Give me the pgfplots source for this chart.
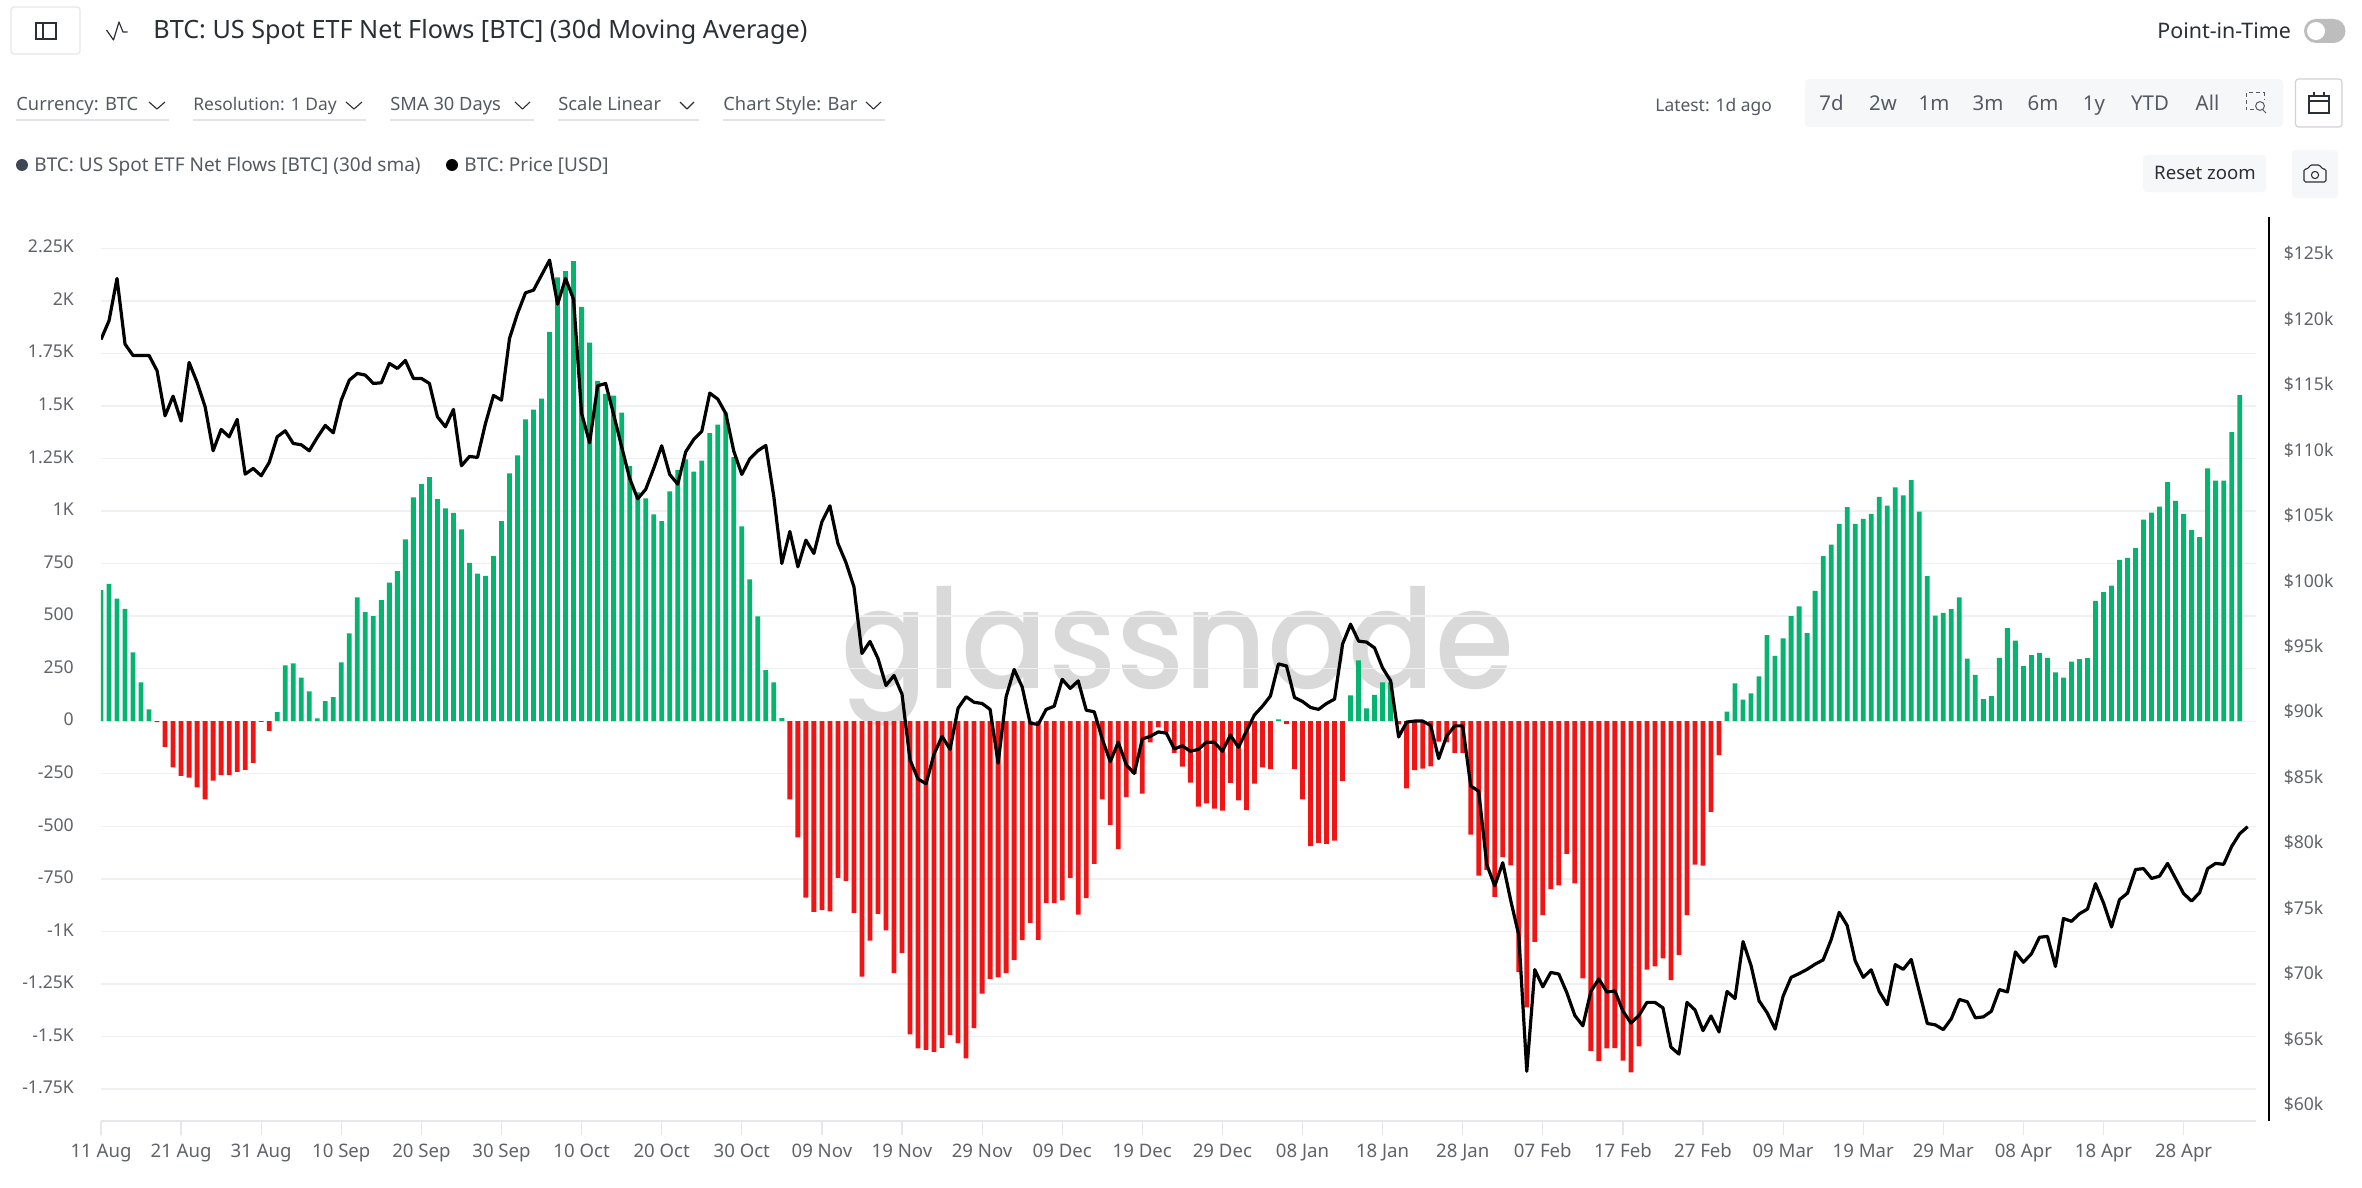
\documentclass[border=0pt]{standalone}
\usepackage{pgfplots}
\pgfplotsset{compat=1.18}
\usepackage{fontspec}
\setmainfont{Noto Sans}
\newfontfamily\wmfont{Poppins}[UprightFont=* Medium]
\definecolor{barg}{HTML}{05B56F}
\definecolor{barr}{HTML}{F01414}
\definecolor{gridc}{HTML}{EFF0F3}
\definecolor{axisc}{HTML}{E6E7EB}
\definecolor{tickt}{HTML}{606368}
\definecolor{uit}{HTML}{2B2F36}
\definecolor{uig}{HTML}{555A62}
\definecolor{panel}{HTML}{F6F7F9}
\definecolor{underl}{HTML}{E3E4E7}
\definecolor{wm}{HTML}{D9D9D9}
\definecolor{dotc}{HTML}{3F4655}
\definecolor{togg}{HTML}{BDBDBD}
\begin{document}
\begin{tikzpicture}
\path[use as bounding box,fill=white] (0,0) rectangle (1181pt,-594pt);
% ---- interface (x,y in reference pixels, y downwards)
\begin{scope}[x=0.5pt,y=-0.5pt]
\newcommand{\chev}[2]{\draw[uit,line width=0.55pt,line join=round] (#1,102) -- ({(#1+#2)/2},109) -- (#2,102);}
\newcommand{\ul}[2]{\draw[underl,line width=0.6pt] (#1,120) -- (#2,120);}
\draw[draw=axisc,line width=0.6pt,rounded corners=1.5pt] (11,7) rectangle (80,54);
\draw[uit,line width=0.6pt] (36,23) rectangle (56,39) (43,23) -- (43,39);
\draw[uit,line width=0.6pt,line join=round] (106.5,30) -- (113.5,40) -- (119,22) -- (123,32) -- (127.5,32);
\node[anchor=base west,inner sep=0,text=uit,font=\fontsize{12.6pt}{14pt}\selectfont] at (153,39) {BTC: US Spot ETF Net Flows [BTC] (30d Moving Average)};
\begin{scope}[every node/.style={anchor=base west,inner sep=0,text=uig,font=\fontsize{9.15pt}{11pt}\selectfont}]
\node at (16,111) {Currency: BTC}; \chev{149}{165} \ul{16}{169}
\node[font=\fontsize{8.7pt}{11pt}\selectfont] at (193,111) {Resolution: 1 Day}; \chev{346}{362} \ul{193}{366}
\node at (390,111) {SMA 30 Days}; \chev{515}{530} \ul{390}{534}
\node at (558,111) {Scale Linear}; \chev{680}{694} \ul{558}{699}
\node at (723,111) {Chart Style: Bar}; \chev{866}{881} \ul{723}{885}
\node[font=\fontsize{9.5pt}{11pt}\selectfont] at (34,171) {BTC: US Spot ETF Net Flows [BTC] (30d sma)};
\node[font=\fontsize{9.5pt}{11pt}\selectfont] at (464,171) {BTC: Price [USD]};
\node[font=\fontsize{8.7pt}{10pt}\selectfont] at (1655,112) {Latest: 1d ago};
\node[text=uit,font=\fontsize{10.7pt}{12pt}\selectfont] at (2157,39) {Point-in-Time};
\end{scope}
\fill[dotc] (22,165) circle (3pt);
\fill[black] (452,165) circle (3pt);
\fill[togg,rounded corners=6pt] (2304,19) rectangle (2345.5,43);
\fill[white] (2316,31) circle (4.5pt);
\fill[panel,rounded corners=2pt] (1805,79) rectangle (2283,127);
\begin{scope}[every node/.style={anchor=base,inner sep=0,text=uig,font=\fontsize{10.2pt}{12pt}\selectfont}]
\node at (1831.5,111) {7d}; \node at (1883,111) {2w}; \node at (1934,111) {1m};
\node at (1988,111) {3m}; \node at (2043,111) {6m}; \node at (2094,111) {1y};
\node at (2150,111) {YTD}; \node at (2207.5,111) {All};
\end{scope}
\draw[uig,line width=0.5pt,dash pattern=on 2pt off 1.5pt] (2246,93) rectangle (2264,110);
\fill[panel] (2255,100) rectangle (2268,114);
\draw[uig,line width=0.5pt] (2260,106) circle (2.2pt) (2263,110) -- (2266,113);
\draw[draw=axisc!80!gray,fill=white,line width=0.6pt,rounded corners=1.5pt] (2295.5,79) rectangle (2342,127);
\draw[uit,line width=0.6pt] (2309,96) rectangle (2329,113) (2309,101) -- (2329,101) (2314,92) -- (2314,97) (2324,92) -- (2324,97);
\fill[panel,rounded corners=2pt] (2143,155) rectangle (2266,192);
\node[inner sep=0,text=uit,font=\fontsize{9.3pt}{11pt}\selectfont] at (2205,173) {Reset zoom};
\fill[panel,rounded corners=2pt] (2292,150) rectangle (2338,198);
\draw[uit,line width=0.55pt,rounded corners=0.8pt] (2304,169) -- (2308,169) -- (2310,165) -- (2320,165) -- (2322,169) -- (2326,169) -- (2326,182) -- (2304,182) -- cycle;
\draw[uit,line width=0.55pt] (2315,175) circle (1.8pt);
% watermark
\node[anchor=base west,inner sep=0,text=wm,font=\wmfont\fontsize{69pt}{70pt}\selectfont] at (841,688) {\scalebox{0.925}[1]{glassnode}};
\end{scope}
% ---- flows
\begin{axis}[
  at={(50.5pt,-560.5pt)},anchor=south west,scale only axis,
  width=1077.5pt,height=452pt,
  xmin=0,xmax=269.04,ymin=-1902,ymax=2399,
  axis x line*=bottom,axis y line*=left,
  x axis line style={draw=axisc,line width=0.8pt,-},
  y axis line style={draw=none,-},
  scaled y ticks=false,
  xtick={0,10,...,260},
  xticklabels={11 Aug,21 Aug,31 Aug,10 Sep,20 Sep,30 Sep,10 Oct,20 Oct,30 Oct,09 Nov,19 Nov,29 Nov,09 Dec,19 Dec,29 Dec,08 Jan,18 Jan,28 Jan,07 Feb,17 Feb,27 Feb,09 Mar,19 Mar,29 Mar,08 Apr,18 Apr,28 Apr},
  ytick={-1750,-1500,-1250,-1000,-750,-500,-250,0,250,500,750,1000,1250,1500,1750,2000,2250},
  yticklabels={-1.75K,-1.5K,-1.25K,-1K,-750,-500,-250,0,250,500,750,1K,1.25K,1.5K,1.75K,2K,2.25K},
  ymajorgrids,grid style={gridc,line width=0.7pt},
  xtick style={draw=axisc,line width=0.6pt},ytick style={draw=none},
  major tick length=7pt,xtick align=outside,
  xticklabel style={font=\fontsize{9.3pt}{11pt}\selectfont,text=tickt,inner sep=0,yshift=-4.2pt},
  yticklabel style={font=\fontsize{8.8pt}{11pt}\selectfont,text=tickt,inner sep=0,anchor=east,xshift=-13.4pt,yshift=0.8pt},
]
\addplot[ybar,bar width=2.4pt,bar shift=0pt,fill=barg,draw=none] coordinates {
(0,624)(1,654)(2,583)(3,534)(4,328)(5,185)(6,56)
(22,43)(23,266)(24,275)(25,207)(26,142)(27,14)(28,96)(29,115)(30,280)(31,418)(32,589)(33,519)(34,500)(35,576)(36,660)(37,714)(38,865)(39,1065)(40,1128)(41,1161)(42,1057)(43,1013)(44,991)(45,913)(46,754)(47,702)(48,692)(49,786)(50,952)(51,1179)(52,1265)(53,1436)(54,1482)(55,1535)(56,1853)(57,2112)(58,2142)(59,2189)(60,1971)(61,1801)(62,1619)(63,1558)(64,1549)(65,1468)(66,1214)(67,1089)(68,1060)(69,984)(70,952)(71,1094)(72,1195)(73,1246)(74,1187)(75,1240)(76,1371)(77,1411)(78,1468)(79,1257)(80,927)(81,675)(82,499)(83,243)(84,185)(85,15)
(147,9)
(156,123)(157,290)(158,61)(159,126)(160,185)(161,185)
(203,46)(204,180)(205,103)(206,132)(207,213)(208,410)(209,311)(210,394)(211,500)(212,547)(213,419)(214,620)(215,786)(216,840)(217,939)(218,1019)(219,939)(220,963)(221,986)(222,1068)(223,1026)(224,1113)(225,1075)(226,1147)(227,997)(228,690)(229,502)(230,515)(231,533)(232,589)(233,298)(234,220)(235,105)(236,119)(237,302)(238,443)(239,383)(240,262)(241,314)(242,325)(243,302)(244,233)(245,208)(246,284)(247,296)(248,300)(249,573)(250,614)(251,645)(252,768)(253,777)(254,824)(255,959)(256,992)(257,1021)(258,1138)(259,1048)(260,986)(261,909)(262,876)(263,1203)(264,1145)(265,1145)(266,1375)(267,1552)
};
\addplot[ybar,bar width=2.4pt,bar shift=0pt,fill=barr,draw=none] coordinates {
(7,-4)(8,-122)(9,-220)(10,-260)(11,-268)(12,-315)(13,-372)(14,-282)(15,-256)(16,-256)(17,-241)(18,-231)(19,-198)(20,-3)(21,-46)
(86,-372)(87,-553)(88,-839)(89,-907)(90,-899)(91,-905)(92,-745)(93,-760)(94,-912)(95,-1215)(96,-1044)(97,-916)(98,-995)(99,-1198)(100,-1102)(101,-1490)(102,-1557)(103,-1563)(104,-1573)(105,-1554)(106,-1492)(107,-1531)(108,-1604)(109,-1460)(110,-1296)(111,-1226)(112,-1219)(113,-1198)(114,-1136)(115,-1042)(116,-959)(117,-1040)(118,-865)(119,-865)(120,-852)(121,-745)(122,-920)(123,-841)(124,-679)(125,-372)(126,-493)(127,-608)(128,-361)(129,-250)(130,-344)(131,-100)(132,-29)(133,-52)(134,-150)(135,-216)(136,-292)(137,-406)(138,-391)(139,-416)(140,-425)(141,-293)(142,-376)(143,-423)(144,-297)(145,-220)(146,-228)
(148,-13)(149,-228)(150,-372)(151,-594)(152,-579)(153,-583)(154,-568)(155,-284)
(162,-15)(163,-320)(164,-233)(165,-226)(166,-215)(167,-97)(168,-100)(169,-151)(170,-151)(171,-540)(172,-735)(173,-707)(174,-836)(175,-646)(176,-686)(177,-1194)(178,-1361)(179,-1050)(180,-922)(181,-799)(182,-781)(183,-631)(184,-771)(185,-1223)(186,-1568)(187,-1617)(188,-1556)(189,-1555)(190,-1615)(191,-1671)(192,-1547)(193,-1182)(194,-1166)(195,-1128)(196,-1232)(197,-1112)(198,-922)(199,-682)(200,-687)(201,-431)(202,-161)
};
\end{axis}
% ---- price
\begin{axis}[
  at={(50.5pt,-560.5pt)},anchor=south west,scale only axis,
  width=1084pt,height=452pt,
  xmin=0,xmax=270.66,ymin=58732,ymax=127806,
  axis x line=none,axis y line*=right,
  y axis line style={draw=black,line width=1.2pt,-},
  scaled y ticks=false,
  xtick=\empty,
  ytick={60000,65000,70000,75000,80000,85000,90000,95000,100000,105000,110000,115000,120000,125000},
  yticklabels={\$60k,\$65k,\$70k,\$75k,\$80k,\$85k,\$90k,\$95k,\$100k,\$105k,\$110k,\$115k,\$120k,\$125k},
  ytick style={draw=none},major tick length=0pt,
  yticklabel style={font=\fontsize{8.8pt}{11pt}\selectfont,text=tickt,inner sep=0,anchor=west,xshift=7.2pt},
]
\addplot[black,line width=1.6pt,line join=round,mark=none] coordinates {
(0,118450)(1,119876)(2,123111)(3,118093)(4,117227)(5,117227)(6,117227)(7,116056)(8,112617)(9,114120)(10,112210)(11,116692)(12,115164)(13,113305)(14,109943)(15,111573)(16,111013)(17,112337)(18,108160)(19,108593)(20,108033)(21,109051)(22,111013)(23,111471)(24,110503)(25,110401)(26,109943)(27,110961)(28,111878)(29,111318)(30,113814)(31,115342)(32,115852)(33,115725)(34,115088)(35,115139)(36,116616)(37,116234)(38,116845)(39,115470)(40,115470)(41,115088)(42,112541)(43,111777)(44,113101)(45,108797)(46,109510)(47,109434)(48,112031)(49,114171)(50,113814)(51,118526)(52,120436)(53,122016)(54,122219)(55,123366)(56,124512)(57,121150)(58,123111)(59,121506)(60,112795)(61,110554)(62,114909)
(63,115088)(64,112719)(65,110248)(66,107829)(67,106275)(68,106989)(69,108593)(70,110325)(71,108135)(72,107396)(73,109866)(74,110810)(75,111420)(76,114349)(77,113891)(78,112795)(79,109917)(80,108135)(81,109331)(82,109943)(83,110350)(84,106428)(85,101334)(86,103779)(87,101079)(88,103117)(89,102098)(90,104518)(91,105740)(92,102862)(93,101410)(94,99551)(95,94457)(96,95374)(97,94075)(98,92012)(99,92776)(100,91350)
(101,86316)(102,84866)(103,84503)(104,86768)(105,88128)(106,87131)(107,90273)(108,91149)(109,90726)(110,90635)(111,90182)(112,86074)(113,91149)(114,93234)(115,91904)(116,89125)(117,89034)(118,90182)(119,90424)(120,92480)(121,91783)(122,92357)(123,90122)(124,90001)(125,87917)(126,86194)(127,87675)(128,85953)(129,85288)(130,87917)(131,88128)(132,88460)(133,88370)(134,87161)(135,87403)(136,86980)(137,87131)(138,87675)(139,87675)(140,86980)(141,88219)(142,87282)(143,88521)(144,89760)(145,90424)(146,91210)(147,93656)(148,93505)(149,91089)(150,90786)(151,90333)(152,90182)(153,90635)(154,90968)(155,95167)
(156,96692)(157,95402)(158,95323)(159,94875)(160,93347)(161,92373)(162,88079)(163,89212)(164,89291)(165,89291)(166,88949)(167,86420)(168,88158)(169,88922)(170,88922)(171,84339)(172,83918)(173,78334)(174,76701)(175,78465)(176,75568)(177,72934)(178,62529)(179,70300)(180,68983)(181,70089)(182,69957)(183,68535)(184,66796)(185,66006)(186,68640)(187,69589)(188,68588)(189,68667)(190,67139)(191,66217)(192,66796)(193,67797)(194,67797)(195,67376)(196,64373)(197,63847)(198,67797)(199,67218)(200,65638)
(201,66760)(202,65537)(203,68630)(204,68091)(205,72443)(206,70608)(207,67911)(208,67012)(209,65753)(210,68271)(211,69710)(212,69997)(213,70321)(214,70717)(215,71041)(216,72587)(217,74673)(218,73666)(219,70968)(220,69710)(221,70285)(222,68630)(223,67623)(224,70681)(225,70321)(226,71076)(227,68630)(228,66185)(229,66077)(230,65717)(231,66544)(232,68021)(233,67840)(234,66617)(235,66688)(236,67120)(237,68775)(238,68595)(239,71652)(240,70861)(241,71509)(242,72768)(243,72840)(244,70538)(245,74206)(246,73990)(247,74566)(248,74925)(249,76868)(250,75393)(251,73558)(252,75645)(253,76148)(254,77947)(255,78019)(256,77263)(257,77443)(258,78415)(259,77263)(260,76112)(261,75536)(262,76184)(263,78019)(264,78415)(265,78343)(266,79709)(267,80681)(268,81220)
};
\end{axis}
\end{tikzpicture}
\end{document}
